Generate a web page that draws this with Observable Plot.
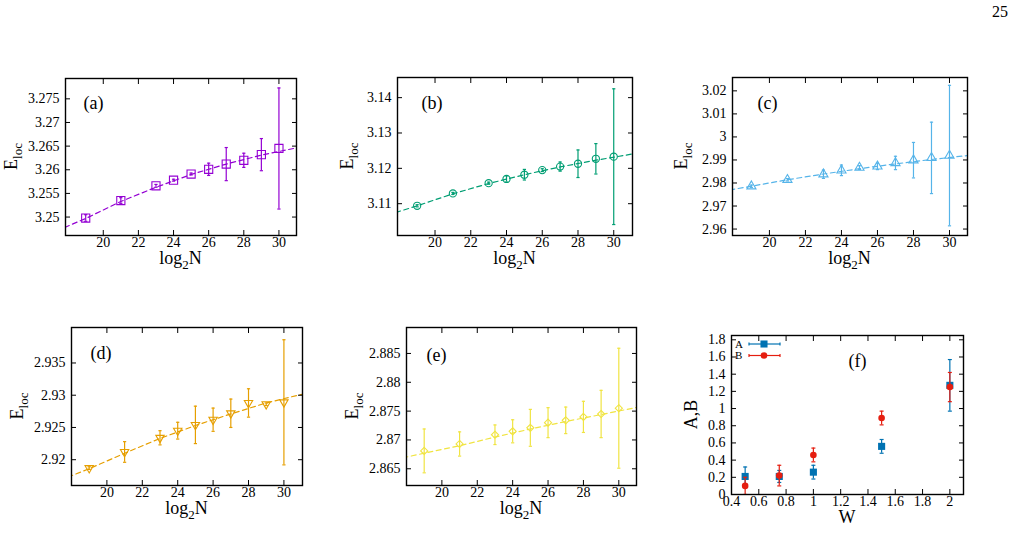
<!DOCTYPE html>
<html><head><meta charset="utf-8">
<script src="https://cdn.jsdelivr.net/npm/d3@7"></script>
<script src="https://cdn.jsdelivr.net/npm/@observablehq/plot@0.6"></script>
<style>
body{margin:0;background:#fff;}
#page{position:relative;width:1019px;height:556px;overflow:hidden;font-family:"Liberation Serif","DejaVu Serif",serif;background:#fff;}
#page svg{position:absolute;}
#pnum{position:absolute;left:992px;top:3px;font-size:16px;}
</style></head><body><div id="page"><div id="pnum">25</div></div>
<script>
// ---- data ----
const logN = [19, 21, 23, 24, 25, 26, 27, 28, 29, 30];
const xTicks = [20, 22, 24, 26, 28, 30];
const fitN = [17.8, 19, 21, 23, 25, 27, 29, 31.1];

const eA   = [3.2498, 3.2535, 3.2566, 3.2578, 3.2591, 3.2601, 3.2612, 3.2620, 3.2632, 3.2645];
const errA = [0.0007, 0.0006, 0.0003, 0.0002, 0.0002, 0.0013, 0.0035, 0.0015, 0.0034, 0.0128];
const fitA = [3.2478, 3.2497, 3.2533, 3.2563, 3.2590, 3.2612, 3.2631, 3.2647];
const yTicksA = [3.25, 3.255, 3.26, 3.265, 3.27, 3.275];

const eB   = [3.1094, 3.1129, 3.1158, 3.1170, 3.1182, 3.1195, 3.1205, 3.1213, 3.1227, 3.1233];
const errB = [0.0003, 0.0003, 0.0003, 0.0009, 0.0015, 0.0004, 0.0013, 0.0039, 0.0043, 0.0192];
const fitB = [3.1075, 3.1094, 3.1128, 3.1157, 3.1182, 3.1204, 3.1223, 3.1241];
const yTicksB = [3.11, 3.12, 3.13, 3.14];

const eC   = [2.9786, 2.9814, 2.9838, 2.9855, 2.9867, 2.9872, 2.9887, 2.9899, 2.9909, 2.9919];
const errC = [0.0005, 0.0005, 0.0018, 0.0023, 0.0008, 0.0014, 0.0029, 0.0077, 0.0155, 0.0305];
const fitC = [2.9770, 2.9786, 2.9814, 2.9839, 2.9862, 2.9883, 2.9902, 2.9920];
const yTicksC = [2.96, 2.97, 2.98, 2.99, 3.0, 3.01, 3.02];

const eD   = [2.9187, 2.9212, 2.9234, 2.9245, 2.9254, 2.9262, 2.9272, 2.9288, 2.9286, 2.9289];
const errD = [0.0002, 0.0016, 0.0011, 0.0013, 0.0029, 0.0018, 0.0022, 0.0022, 0.0002, 0.0097];
const fitD = [2.9173, 2.9186, 2.9210, 2.9233, 2.9253, 2.9271, 2.9288, 2.9302];
const yTicksD = [2.92, 2.925, 2.93, 2.935];

const eE   = [2.8681, 2.8693, 2.8709, 2.8715, 2.8721, 2.8730, 2.8734, 2.8740, 2.8745, 2.8755];
const errE = [0.0038, 0.0021, 0.0017, 0.0020, 0.0032, 0.0026, 0.0023, 0.0027, 0.0041, 0.0104];
const fitE = [2.8669, 2.8677, 2.8690, 2.8705, 2.8719, 2.8732, 2.8744, 2.8757];
const yTicksE = [2.865, 2.87, 2.875, 2.88, 2.885];

const W     = [0.5, 0.75, 1, 1.5, 2];
const A     = [0.21, 0.21, 0.26, 0.56, 1.27];
const errAW = [0.11, 0.07, 0.08, 0.08, 0.30];
const B     = [0.10, 0.22, 0.46, 0.89, 1.25];
const errBW = [0.10, 0.12, 0.08, 0.08, 0.17];
const xTicksF = [0.4, 0.6, 0.8, 1, 1.2, 1.4, 1.6, 1.8, 2];
const yTicksF = [0, 0.2, 0.4, 0.6, 0.8, 1, 1.2, 1.4, 1.6, 1.8];

// ---- helpers ----
const fmt = d3.format("~g");
const cap = {draw(ctx, size) { const w = Math.sqrt(size / Math.PI); ctx.moveTo(-w, 0); ctx.lineTo(w, 0); }};
const triDown = {draw(ctx, size) { const s = Math.sqrt(size) * 0.6824, t = s / 2, u = s * Math.sqrt(3) / 2;
  ctx.moveTo(0, s); ctx.lineTo(u, -t); ctx.lineTo(-u, -t); ctx.closePath(); }};
const page = document.getElementById("page");
const ML = 70, MT = 20, MR = 15, MB = 45;
const FONT = "'Liberation Serif','DejaVu Serif',serif";

function axes(xt, yt) {
  return [
    Plot.axisX({ticks: xt, tickSize: 0, tickPadding: 2, tickFormat: fmt, label: null}),
    Plot.axisX({ticks: xt, anchor: "bottom", tickSize: -5, fill: "none", label: null, tickFormat: () => ""}),
    Plot.axisX({ticks: xt, anchor: "top", tickSize: -5, fill: "none", label: null, tickFormat: () => ""}),
    Plot.axisY({ticks: yt, tickSize: 0, tickPadding: 6, tickFormat: fmt, label: null}),
    Plot.axisY({ticks: yt, anchor: "left", tickSize: -5, fill: "none", label: null, tickFormat: () => ""}),
    Plot.axisY({ticks: yt, anchor: "right", tickSize: -5, fill: "none", label: null, tickFormat: () => ""})
  ];
}

function place(svg, frame) {
  svg.style.left = (frame[0] - ML) + "px";
  svg.style.top = (frame[1] - MT) + "px";
  page.appendChild(svg);
}

function yLabel(svg, fh, dx, main, sub) {
  const t = d3.select(svg).append("text")
    .attr("transform", `translate(${ML + dx},${MT + fh / 2}) rotate(-90)`)
    .attr("text-anchor", "middle").attr("font-family", FONT).attr("font-size", 18).attr("fill", "#000");
  t.append("tspan").text(main);
  if (sub) t.append("tspan").attr("dy", 5).attr("font-size", 13).text(sub);
}
function xLabel(svg, fw, fh, parts) {
  const t = d3.select(svg).append("text")
    .attr("transform", `translate(${ML + fw / 2},${MT + fh + 29})`)
    .attr("text-anchor", "middle").attr("font-family", FONT).attr("font-size", 18).attr("fill", "#000");
  parts(t);
}

const panels = [
  {id: "(a)", frame: [65, 78, 296, 235], xd: [17.85, 31], yd: [3.2461, 3.2793], yt: yTicksA, v: eA, e: errA, fit: fitA, color: "#9400d3", symbol: "square", r: 4.6, ldx: 18, ldy: 25, yl: -48},
  {id: "(b)", frame: [397, 77, 632, 235], xd: [17.9, 31.05], yd: [3.1010, 3.1457], yt: yTicksB, v: eB, e: errB, fit: fitB, color: "#009e73", symbol: "circle", r: 3.6, ldx: 24, ldy: 26, yl: -44},
  {id: "(c)", frame: [732, 77, 967, 235], xd: [17.95, 31], yd: [2.9572, 3.0258], yt: yTicksC, v: eC, e: errC, fit: fitC, color: "#56b4e9", symbol: "triangle", r: 3.4, ldx: 25, ldy: 26, yl: -45},
  {id: "(d)", frame: [71, 327, 302, 485], xd: [18, 31.05], yd: [2.9160, 2.9405], yt: yTicksD, v: eD, e: errD, fit: fitD, color: "#e69f00", symbol: triDown, r: 4, ldx: 19, ldy: 26, yl: -48},
  {id: "(e)", frame: [406, 327, 636, 485], xd: [18, 31], yd: [2.8621, 2.8895], yt: yTicksE, v: eE, e: errE, fit: fitE, color: "#f0e442", symbol: "diamond2", r: 3.2, ldx: 20, ldy: 28, yl: -48}
];

for (const p of panels) {
  const [x0, y0, x1, y1] = p.frame;
  const fw = x1 - x0, fh = y1 - y0;
  const data = logN.map((n, i) => ({n, v: p.v[i], e: p.e[i]}));
  const fit = fitN.map((n, i) => ({n, v: p.fit[i]}));
  const svg = Plot.plot({
    width: fw + ML + MR, height: fh + MT + MB,
    marginLeft: ML, marginTop: MT, marginRight: MR, marginBottom: MB,
    style: {fontFamily: FONT, fontSize: "14px", background: "none", overflow: "visible", color: "#000"},
    x: {domain: p.xd}, y: {domain: p.yd},
    marks: [
      Plot.line(fit, {x: "n", y: "v", stroke: p.color, strokeWidth: 1.2, strokeDasharray: "5,3.5", clip: true}),
      Plot.ruleX(data, {x: "n", y1: d => d.v - d.e, y2: d => d.v + d.e, stroke: p.color, strokeWidth: 1.2, clip: true}),
      Plot.dot(data, {x: "n", y: d => d.v - d.e, symbol: cap, r: 1.6, stroke: p.color, strokeWidth: 1.2, clip: true}),
      Plot.dot(data, {x: "n", y: d => d.v + d.e, symbol: cap, r: 1.6, stroke: p.color, strokeWidth: 1.2, clip: true}),
      Plot.dot(data, {x: "n", y: "v", symbol: p.symbol, r: p.r, stroke: p.color, fill: "none", strokeWidth: 1.1}),
      Plot.frame({stroke: "#000", strokeWidth: 1.4}),
      ...axes(xTicks, p.yt),
      Plot.text([p.id], {frameAnchor: "top-left", dx: p.ldx, dy: p.ldy, textAnchor: "start", lineAnchor: "middle", fontSize: 18})
    ]
  });
  yLabel(svg, fh, p.yl, "E", "loc");
  xLabel(svg, fw, fh, t => { t.append("tspan").text("log"); t.append("tspan").attr("dy", 5).attr("font-size", 13).text("2"); t.append("tspan").attr("dy", -5).text("N"); });
  place(svg, p.frame);
}

// ---- panel (f) ----
{
  const frame = [731, 335, 963, 494];
  const fw = frame[2] - frame[0], fh = frame[3] - frame[1];
  const dA = W.map((w, i) => ({w, v: A[i], e: errAW[i]}));
  const dB = W.map((w, i) => ({w, v: B[i], e: errBW[i]}));
  const cA = "#0072b2", cB = "#e51e10";
  const errMarks = (d, c) => [
    Plot.ruleX(d, {x: "w", y1: q => q.v - q.e, y2: q => q.v + q.e, stroke: c, strokeWidth: 1.2, clip: true}),
    Plot.dot(d, {x: "w", y: q => q.v - q.e, symbol: cap, r: 2, stroke: c, strokeWidth: 1.2, clip: true}),
    Plot.dot(d, {x: "w", y: q => q.v + q.e, symbol: cap, r: 2, stroke: c, strokeWidth: 1.2, clip: true})
  ];
  const svg = Plot.plot({
    width: fw + ML + MR, height: fh + MT + MB,
    marginLeft: ML, marginTop: MT, marginRight: MR, marginBottom: MB,
    style: {fontFamily: FONT, fontSize: "14px", background: "none", overflow: "visible", color: "#000"},
    x: {domain: [0.4, 2.1]}, y: {domain: [0, 1.85]},
    marks: [
      ...errMarks(dA, cA),
      Plot.dot(dA, {x: "w", y: "v", symbol: "square", r: 4, fill: cA}),
      ...errMarks(dB, cB),
      Plot.dot(dB, {x: "w", y: "v", symbol: "circle", r: 3.3, fill: cB}),
      Plot.frame({stroke: "#000", strokeWidth: 1.4}),
      ...axes(xTicksF, yTicksF),
      Plot.text(["(f)"], {frameAnchor: "top-left", dx: 117, dy: 26, textAnchor: "start", lineAnchor: "middle", fontSize: 18})
    ]
  });
  yLabel(svg, fh, -34, "A,B", null);
  xLabel(svg, fw, fh, t => t.append("tspan").text("W"));
  // legend
  const g = d3.select(svg).append("g").attr("transform", `translate(${ML},${MT})`);
  [["A", cA, d3.symbolSquare, 50, 9], ["B", cB, d3.symbolCircle, 34, 20.5]].forEach(([name, c, sym, size, y]) => {
    g.append("text").attr("x", 4).attr("y", y).attr("dy", "0.32em").attr("text-anchor", "start")
      .attr("font-family", FONT).attr("font-size", 11).attr("fill", "#000").text(name);
    g.append("line").attr("x1", 18).attr("x2", 49).attr("y1", y).attr("y2", y).attr("stroke", c).attr("stroke-width", 1.2);
    g.append("line").attr("x1", 18).attr("x2", 18).attr("y1", y - 1.5).attr("y2", y + 1.5).attr("stroke", c).attr("stroke-width", 1.2);
    g.append("line").attr("x1", 49).attr("x2", 49).attr("y1", y - 1.5).attr("y2", y + 1.5).attr("stroke", c).attr("stroke-width", 1.2);
    g.append("path").attr("d", d3.symbol(sym, size)()).attr("transform", `translate(33,${y})`).attr("fill", c);
  });
  place(svg, frame);
}
</script></body></html>
